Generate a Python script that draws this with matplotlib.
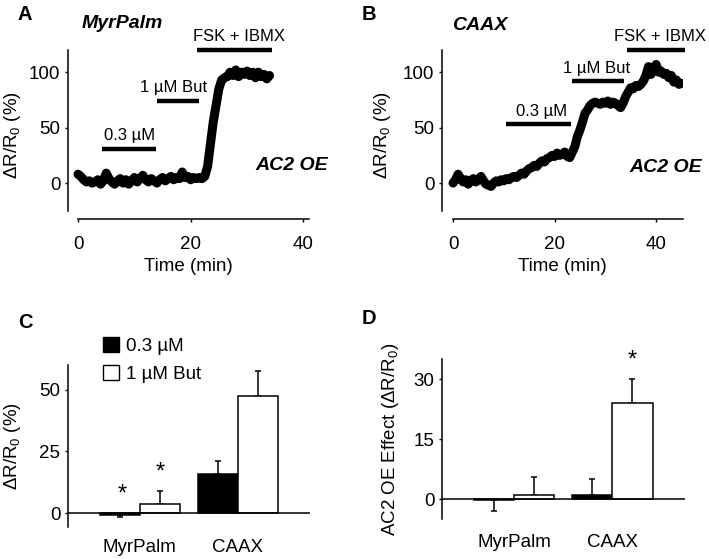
import numpy as np
import matplotlib.pyplot as plt
from matplotlib.patches import Patch

plt.rcParams['font.family'] = ['Liberation Sans', 'DejaVu Sans']
plt.rcParams['mathtext.default'] = 'regular'
plt.rcParams['axes.linewidth'] = 1.1

# ---- traces (time in min, dR/R0 in %) ----
time_a = np.arange(0, 34.01, 0.5)
ratio_a = [8, 6, 3, 1, 2, 0, 1, 3, -1, 2, 9, 4, 1, -1, 2, 4, 0, 3, -1, 2,
           5, 1, 4, 7, 3, 1, 4, 2, 0, 3, 5, 2, 4, 6, 3, 5, 4, 10, 5, 6,
           3, 5, 4, 5, 4, 6, 15, 35, 55, 70, 85, 93, 95, 96, 100, 97, 102, 96, 100, 98,
           101, 97, 100, 95, 100, 96, 98, 94, 97]

time_b = np.arange(0, 45.01, 0.5)
ratio_b = [0, 3, 8, 4, 1, 3, -1, 2, 4, 1, 3, 6, 2, -1, -2, -3, 0, 2, 1, 3,
           2, 4, 3, 5, 6, 5, 7, 9, 8, 11, 13, 14, 16, 15, 18, 20, 19, 22, 23, 25,
           24, 27, 25, 26, 28, 24, 23, 28, 33, 42, 48, 55, 63, 66, 70, 72, 73, 72, 71, 73,
           72, 74, 71, 73, 72, 70, 68, 72, 78, 82, 86, 85, 88, 87, 89, 92, 97, 105, 98, 103,
           107, 100, 101, 98, 99, 95, 97, 91, 93, 89, 90]

# drug application bars: (start, end, level, label, label x)
bars_a = [(4.3, 13.9, 31, '0.3 µM', 9.1),
          (14.0, 21.5, 74, '1 µM But', 17.0),
          (21.1, 34.4, 120, 'FSK + IBMX', 28.5)]
bars_b = [(10.4, 23.2, 53, '0.3 µM', 17.4),
          (23.5, 33.7, 92, '1 µM But', 28.2),
          (34.3, 45.7, 120, 'FSK + IBMX', 40.8)]

# ---- summary bars ----
groups = ['MyrPalm', 'CAAX']
c_low = [-0.8, 16]
c_low_err = [0.7, 5]
c_high = [3.6, 47.6]
c_high_err = [5.5, 9.8]

d_low = [-0.3, 1.0]
d_low_err = [2.6, 4.0]
d_high = [1.0, 24.1]
d_high_err = [4.6, 5.8]

fig = plt.figure(figsize=(7.09, 5.59), dpi=100)
W, H = 709, 559


def px_axes(l, t, r, b):
    return fig.add_axes([l / W, 1 - b / H, (r - l) / W, (b - t) / H])


def trace_panel(ax, t, v, bars, xmax, xlo):
    ax.plot(t, v, color='k', lw=6.5, solid_joinstyle='round', solid_capstyle='round')
    for s, e, y, lab, lx in bars:
        ax.plot([s, e], [y, y], color='k', lw=3.2, solid_capstyle='butt', clip_on=False)
        ax.text(lx, y + 5, lab, ha='center', va='bottom', fontsize=12)
    ax.set_xlim(xlo, xmax)
    ax.set_ylim(-32.4, 120)
    ax.spines[['top', 'right']].set_visible(False)
    ax.spines['left'].set_bounds(-25, 120)
    ax.spines['bottom'].set_bounds(0, xmax)
    ax.set_yticks([0, 50, 100])
    ax.set_xticks([0, 20, 40])
    ax.tick_params(axis='both', labelsize=13.5, length=2.5, width=1)
    ax.tick_params(axis='y', pad=3)
    ax.tick_params(axis='x', pad=10)
    ax.set_xlabel('Time (min)', fontsize=13.5, labelpad=3)
    ax.set_ylabel('ΔR/R$_0$ (%)', fontsize=13.5, labelpad=4)


axA = px_axes(68, 50, 309, 219)
trace_panel(axA, time_a, ratio_a, bars_a, 41.0, -1.78)
axB = px_axes(442, 50, 683, 219)
trace_panel(axB, time_b, ratio_b, bars_b, 45.3, -2.17)
axB.yaxis.labelpad = 7

fig.text(82 / W, 1 - 23 / H, 'MyrPalm', fontsize=14, fontweight='bold', style='italic', va='center')
fig.text(452 / W, 1 - 25 / H, 'CAAX', fontsize=14, fontweight='bold', style='italic', va='center')
fig.text(328 / W, 1 - 165 / H, 'AC2 OE', fontsize=14, fontweight='bold', style='italic', va='center', ha='right')
fig.text(702 / W, 1 - 167 / H, 'AC2 OE', fontsize=14, fontweight='bold', style='italic', va='center', ha='right')


def bar_panel(ax, low, low_err, high, high_err, ylim, yticks):
    x = np.arange(len(groups))
    w = 0.41
    for xs, vals, errs, fc in [(x - w / 2, low, low_err, 'k'), (x + w / 2, high, high_err, 'white')]:
        ax.bar(xs, vals, width=w, color=fc, edgecolor='k', linewidth=1.1, zorder=2)
        lower = [e if v < 0 else 0 for v, e in zip(vals, errs)]
        upper = [0 if v < 0 else e for v, e in zip(vals, errs)]
        ax.errorbar(xs, vals, yerr=[lower, upper], fmt='none', ecolor='k',
                    elinewidth=1.1, capsize=2.5, capthick=1.1, zorder=1)
    ax.axhline(0, color='k', lw=1.1, zorder=3)
    ax.set_xlim(-0.735, 1.74)
    ax.set_ylim(*ylim)
    ax.spines[['top', 'right', 'bottom']].set_visible(False)
    ax.set_yticks(yticks)
    ax.set_xticks(x)
    ax.set_xticklabels(groups)
    ax.tick_params(axis='y', labelsize=13.5, length=2.5, width=1, pad=3)
    ax.tick_params(axis='x', labelsize=13.5, length=0)
    return x, w


axC = px_axes(68, 365, 310, 527)
x, w = bar_panel(axC, c_low, c_low_err, c_high, c_high_err, (-5.6, 60), [0, 25, 50])
axC.tick_params(axis='x', pad=9)
axC.set_ylabel('ΔR/R$_0$ (%)', fontsize=13.5, labelpad=12)
axC.text(x[0] - w / 2 + 0.02, 3.0, '*', ha='center', va='bottom', fontsize=17)
axC.text(x[0] + w / 2, 12.0, '*', ha='center', va='bottom', fontsize=17)
axC.legend([Patch(facecolor='k', edgecolor='k'), Patch(facecolor='white', edgecolor='k')],
           ['0.3 µM', '1 µM But'], loc='upper left', bbox_to_anchor=(0.145, 1.17),
           frameon=False, fontsize=13.5, handlelength=0.85, handleheight=0.85,
           handletextpad=0.35, labelspacing=0.5, borderpad=0, borderaxespad=0)

axD = px_axes(442, 359, 685, 519)
x, w = bar_panel(axD, d_low, d_low_err, d_high, d_high_err, (-5, 35), [0, 15, 30])
axD.tick_params(axis='x', pad=11)
axD.set_ylabel('AC2 OE Effect (ΔR/R$_0$)', fontsize=13.5, labelpad=9)
axD.text(x[1] + w / 2, 31.8, '*', ha='center', va='bottom', fontsize=17)

for lab, px, py in [('A', 18, 15), ('B', 362, 15), ('C', 18, 322), ('D', 362, 318)]:
    fig.text(px / W, 1 - py / H, lab, fontsize=14.5, fontweight='bold', va='center')

fig.savefig('out.png', dpi=100)
